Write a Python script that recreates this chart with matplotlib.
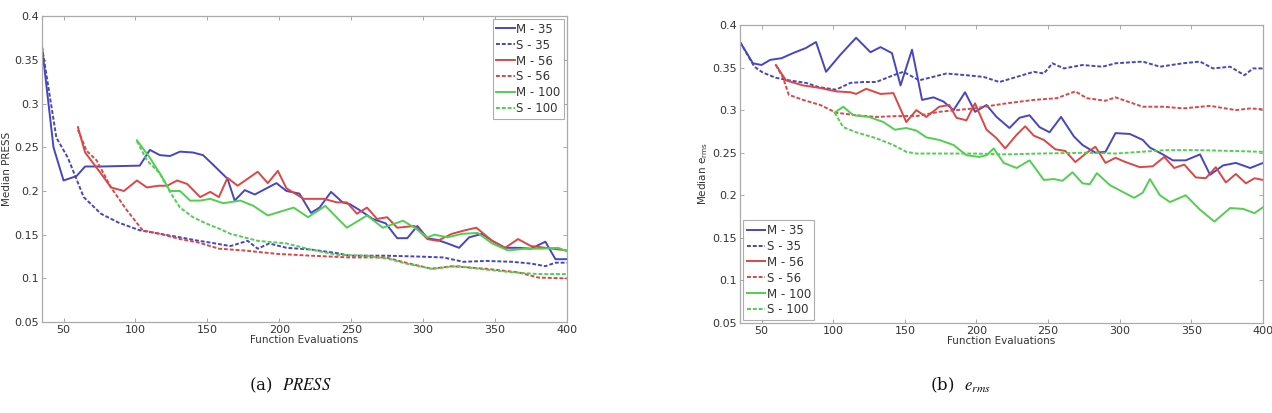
import matplotlib
matplotlib.use('Agg')
import matplotlib.pyplot as plt

# ---- (a) PRESS ----
press_m35_x = [35, 43, 50, 59, 65, 76, 103, 110, 117, 124, 131, 140, 147, 154, 164, 169, 176, 183, 198, 205,
               214, 222, 228, 236, 244, 249, 256, 265, 274, 282, 289, 296, 303, 310, 317, 325, 332, 341, 348,
               357, 366, 375, 385, 392, 400]
press_m35_y = [0.365, 0.250, 0.212, 0.217, 0.228, 0.228, 0.229, 0.247, 0.241, 0.240, 0.245, 0.244, 0.241, 0.230,
               0.214, 0.189, 0.201, 0.196, 0.209, 0.200, 0.197, 0.175, 0.181, 0.199, 0.187, 0.185, 0.178, 0.168,
               0.163, 0.146, 0.146, 0.160, 0.146, 0.144, 0.140, 0.135, 0.147, 0.151, 0.143, 0.135, 0.135, 0.134,
               0.142, 0.122, 0.122]
press_s35_x = [35, 45, 53, 64, 76, 88, 103, 117, 131, 144, 152, 166, 178, 185, 193, 205, 222, 240, 249, 274,
               297, 314, 328, 344, 362, 375, 385, 392, 400]
press_s35_y = [0.365, 0.261, 0.238, 0.193, 0.174, 0.164, 0.155, 0.151, 0.147, 0.143, 0.141, 0.137, 0.143, 0.134,
               0.140, 0.135, 0.133, 0.129, 0.126, 0.126, 0.125, 0.124, 0.119, 0.120, 0.119, 0.117, 0.114, 0.118,
               0.118]
press_m56_x = [60, 65, 76, 83, 92, 101, 108, 116, 122, 129, 136, 145, 152, 158, 164, 171, 185, 192, 199, 205,
               217, 231, 240, 247, 254, 261, 268, 275, 282, 294, 303, 310, 320, 329, 337, 348, 357, 366, 375,
               385, 400]
press_m56_y = [0.273, 0.244, 0.220, 0.204, 0.200, 0.212, 0.204, 0.206, 0.206, 0.212, 0.208, 0.193, 0.199, 0.193,
               0.215, 0.206, 0.222, 0.209, 0.223, 0.203, 0.191, 0.191, 0.187, 0.187, 0.174, 0.181, 0.168, 0.170,
               0.158, 0.160, 0.145, 0.143, 0.151, 0.155, 0.158, 0.143, 0.135, 0.145, 0.137, 0.135, 0.132]
press_s56_x = [60, 66, 73, 83, 94, 105, 117, 131, 144, 158, 175, 199, 222, 249, 274, 288, 306, 320, 344, 366,
               380, 400]
press_s56_y = [0.270, 0.246, 0.235, 0.204, 0.178, 0.155, 0.151, 0.145, 0.141, 0.134, 0.132, 0.128, 0.126, 0.124,
               0.124, 0.118, 0.111, 0.114, 0.111, 0.107, 0.101, 0.100]
press_m100_x = [101, 110, 117, 124, 131, 138, 145, 152, 161, 173, 182, 192, 210, 220, 232, 247, 261, 272, 286,
                294, 303, 308, 317, 327, 338, 348, 359, 371, 382, 394, 400]
press_m100_y = [0.258, 0.238, 0.220, 0.200, 0.200, 0.189, 0.189, 0.191, 0.186, 0.189, 0.183, 0.172, 0.181, 0.170,
                0.183, 0.158, 0.172, 0.158, 0.166, 0.158, 0.147, 0.150, 0.147, 0.151, 0.152, 0.140, 0.132, 0.134,
                0.134, 0.135, 0.131]
press_s100_x = [101, 108, 117, 124, 131, 140, 149, 158, 166, 185, 205, 222, 240, 261, 277, 288, 306, 324, 344,
                362, 380, 400]
press_s100_y = [0.257, 0.235, 0.220, 0.199, 0.181, 0.170, 0.163, 0.157, 0.151, 0.143, 0.140, 0.133, 0.127, 0.126,
                0.122, 0.117, 0.111, 0.114, 0.110, 0.107, 0.105, 0.105]

# ---- (b) e_rms ----
erms_m35_x = [35, 44, 50, 56, 64, 72, 81, 88, 95, 105, 116, 126, 133, 141, 147, 155, 162, 170, 177, 184, 192,
              199, 207, 214, 223, 230, 237, 244, 251, 259, 268, 274, 283, 290, 297, 307, 316, 321, 330, 337,
              346, 356, 363, 372, 381, 391, 400]
erms_m35_y = [0.380, 0.355, 0.353, 0.359, 0.361, 0.367, 0.373, 0.380, 0.345, 0.365, 0.385, 0.368, 0.374, 0.367,
              0.329, 0.371, 0.312, 0.315, 0.310, 0.300, 0.321, 0.298, 0.306, 0.292, 0.279, 0.291, 0.294, 0.280,
              0.274, 0.292, 0.269, 0.259, 0.250, 0.251, 0.273, 0.272, 0.265, 0.256, 0.248, 0.241, 0.241, 0.248,
              0.224, 0.235, 0.238, 0.232, 0.238]
erms_s35_x = [35, 45, 51, 60, 69, 81, 90, 102, 112, 121, 130, 142, 149, 160, 179, 193, 205, 216, 228, 240, 247,
              253, 261, 274, 288, 297, 316, 328, 344, 356, 365, 377, 387, 393, 400]
erms_s35_y = [0.380, 0.351, 0.344, 0.338, 0.335, 0.332, 0.327, 0.324, 0.332, 0.333, 0.333, 0.341, 0.345, 0.335,
              0.343, 0.341, 0.339, 0.333, 0.339, 0.345, 0.343, 0.355, 0.349, 0.353, 0.351, 0.355, 0.357, 0.351,
              0.355, 0.357, 0.349, 0.351, 0.341, 0.349, 0.349]
erms_m56_x = [60, 67, 79, 91, 102, 112, 116, 123, 133, 142, 151, 158, 165, 174, 181, 186, 193, 199, 201, 207,
              214, 220, 228, 234, 240, 247, 255, 262, 269, 277, 283, 290, 297, 304, 314, 323, 331, 338, 345,
              353, 360, 367, 374, 381, 388, 394, 400]
erms_m56_y = [0.353, 0.335, 0.329, 0.326, 0.322, 0.321, 0.319, 0.325, 0.319, 0.320, 0.286, 0.300, 0.292, 0.304,
              0.306, 0.291, 0.288, 0.308, 0.300, 0.277, 0.267, 0.255, 0.271, 0.281, 0.270, 0.265, 0.254, 0.252,
              0.239, 0.250, 0.257, 0.238, 0.244, 0.239, 0.233, 0.234, 0.245, 0.232, 0.236, 0.221, 0.220, 0.233,
              0.215, 0.225, 0.214, 0.220, 0.218]
erms_s56_x = [60, 65, 69, 79, 91, 102, 116, 130, 144, 158, 174, 198, 221, 240, 256, 269, 277, 290, 297, 316,
              331, 344, 363, 381, 391, 400]
erms_s56_y = [0.353, 0.338, 0.318, 0.312, 0.306, 0.297, 0.294, 0.292, 0.293, 0.293, 0.298, 0.302, 0.308, 0.312,
              0.314, 0.322, 0.314, 0.311, 0.315, 0.304, 0.304, 0.302, 0.305, 0.300, 0.302, 0.301]
erms_m100_x = [101, 107, 114, 125, 135, 143, 151, 158, 165, 174, 184, 193, 202, 207, 212, 219, 228, 237, 247,
               254, 260, 267, 274, 279, 284, 293, 302, 310, 316, 321, 328, 335, 346, 356, 366, 377, 386, 394,
               400]
erms_m100_y = [0.297, 0.304, 0.294, 0.292, 0.286, 0.277, 0.279, 0.276, 0.268, 0.265, 0.259, 0.247, 0.245, 0.247,
               0.255, 0.238, 0.232, 0.241, 0.218, 0.219, 0.217, 0.227, 0.214, 0.213, 0.226, 0.212, 0.204, 0.197,
               0.203, 0.219, 0.200, 0.192, 0.200, 0.183, 0.169, 0.185, 0.184, 0.179, 0.186]
erms_s100_x = [101, 107, 116, 130, 142, 151, 158, 174, 198, 221, 244, 277, 297, 332, 356, 379, 400]
erms_s100_y = [0.297, 0.280, 0.274, 0.267, 0.259, 0.251, 0.249, 0.249, 0.249, 0.248, 0.249, 0.250, 0.249, 0.253,
               0.253, 0.252, 0.251]

labels = ['M - 35', 'S - 35', 'M - 56', 'S - 56', 'M - 100', 'S - 100']
xticks = [50, 100, 150, 200, 250, 300, 350, 400]
yticks = [0.05, 0.1, 0.15, 0.2, 0.25, 0.3, 0.35, 0.4]

BLUE = '#4646c2'
RED = '#dc4646'
GREEN = '#50cf50'
TXT = '#333333'


def style_axes(ax, ylabel):
    '''
    MATLAB like axes: ticks inside on all four sides, grey box
    '''
    ax.set_xlim(35, 400)
    ax.set_ylim(0.05, 0.4)
    ax.set_xticks(xticks)
    ax.set_yticks(yticks)
    ax.set_yticklabels([('%g' % t) for t in yticks])
    ax.tick_params(direction='in', top=True, right=True, length=3, width=0.6,
                   color='#999999', labelsize=8, labelcolor=TXT, pad=2)
    for s in ax.spines.values():
        s.set_color('#aaaaaa')
        s.set_linewidth(0.9)
    ax.set_xlabel('Function Evaluations', fontsize=7.5, color=TXT, labelpad=0)
    ax.set_ylabel(ylabel, fontsize=7.5, color=TXT, labelpad=2)


def plot_panel(ax, series, legend_loc):
    '''
    Plots the six curves (solid = M, dashed = S) for one panel
    '''
    colors = [BLUE, BLUE, RED, RED, GREEN, GREEN]
    for i in range(len(series)):
        x, y = series[i]
        ls = '-' if i % 2 == 0 else (0, (2, 1))
        ax.plot(x, y, color=colors[i], linestyle=ls, linewidth=1.4, label=labels[i])
    leg = ax.legend(loc=legend_loc, fontsize=8.5, handlelength=1.6, handletextpad=0.1,
                    labelspacing=0.25, borderpad=0.3, borderaxespad=0.25, fancybox=False)
    leg.get_frame().set_edgecolor('#999999')
    leg.get_frame().set_linewidth(0.8)
    for t in leg.get_texts():
        t.set_color(TXT)


fig = plt.figure(figsize=(12.72, 4.13), dpi=100)

ax1 = fig.add_axes([0.033, 0.220, 0.4127, 0.741])
plot_panel(ax1, [(press_m35_x, press_m35_y), (press_s35_x, press_s35_y),
                 (press_m56_x, press_m56_y), (press_s56_x, press_s56_y),
                 (press_m100_x, press_m100_y), (press_s100_x, press_s100_y)], 'upper right')
style_axes(ax1, 'Median PRESS')

ax2 = fig.add_axes([0.5818, 0.218, 0.4112, 0.7215])
plot_panel(ax2, [(erms_m35_x, erms_m35_y), (erms_s35_x, erms_s35_y),
                 (erms_m56_x, erms_m56_y), (erms_s56_x, erms_s56_y),
                 (erms_m100_x, erms_m100_y), (erms_s100_x, erms_s100_y)], 'lower left')
style_axes(ax2, r'Median e$_{\rm rms}$')

plt.rcParams['mathtext.fontset'] = 'stix'
fig.text(0.228, 0.068, r'(a)  $PRESS$', ha='center', va='center', fontsize=12,
         family='serif', color='#111111')
fig.text(0.755, 0.068, r'(b)  $e_{rms}$', ha='center', va='center', fontsize=12,
         family='serif', color='#111111')

fig.savefig('out.png', dpi=100)
